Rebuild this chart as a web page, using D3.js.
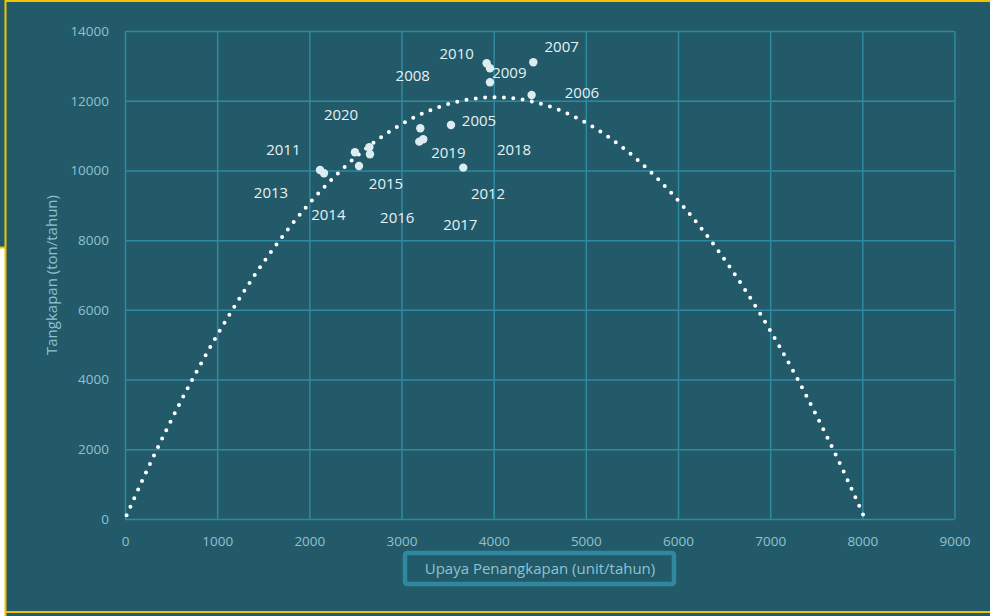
<!DOCTYPE html>
<html>
<head>
<meta charset="utf-8">
<script src="https://cdn.jsdelivr.net/npm/d3@7"></script>
<style>
  html, body { margin: 0; padding: 0; background: #ffffff; }
  svg { display: block; }
  text { font-family: "Open Sans", "Noto Sans", sans-serif; }
</style>
</head>
<body>
<div id="chart"></div>
<script>
let width = 990;
let height = 616;

// tahun, upaya (unit/tahun), tangkapan (ton/tahun)
const years = ['2005', '2006', '2007', '2008', '2009', '2010', '2011', '2012',
               '2013', '2014', '2015', '2016', '2017', '2018', '2019', '2020'];
const effort = [3537, 4412, 4430, 3960, 3960, 3924, 2116, 3670,
                2159, 2495, 2658, 2539, 3193, 3204, 3236, 2651];
const catches = [11305, 12166, 13103, 12530, 12932, 13075, 10013, 10080,
                 9918, 10521, 10464, 10128, 10826, 11210, 10894, 10664];

// posisi label (digeser manual di grafik asli), dalam satuan data
const labelX = [3841, 4958, 4738, 3122, 4170, 3599, 1718, 3939,
                1584, 2206, 2832, 2954, 3638, 4221, 3508, 2344];
const labelY = [11427, 12222, 13551, 12710, 12805, 13361, 10607, 9344,
                9373, 8722, 9631, 8644, 8435, 10587, 10521, 11611];

const xTicks = [0, 1000, 2000, 3000, 4000, 5000, 6000, 7000, 8000, 9000];
const yTicks = [0, 2000, 4000, 6000, 8000, 10000, 12000, 14000];

// trendline polinomial orde 2 (y = a*x + b*x^2), dari grafik
const trendA = 6.027;
const trendB = -0.0007506;
const trendEnd = 8030;

const bg = '#225a69';
const gridColor = '#2e8aa0';
const tickColor = '#8fc2d0';
const pointColor = '#dcecf1';

let svg = d3.select('#chart')
            .append('svg')
            .attr('width', width)
            .attr('height', height);

// latar + bingkai kuning
svg.append('rect')
    .attr('x', 0).attr('y', 0)
    .attr('width', width).attr('height', height)
    .attr('fill', bg);
svg.append('rect')
    .attr('x', 0).attr('y', 248)
    .attr('width', 5).attr('height', height - 248)
    .attr('fill', '#ffffff');
svg.append('line')
    .attr('x1', 0).attr('x2', 6).attr('y1', 247.5).attr('y2', 247.5)
    .attr('stroke', '#f2c200').attr('stroke-width', 2);
svg.append('path')
    .attr('d', 'M5.5,' + height + 'V1H' + (width + 5) + 'M5.5,612H' + (width + 5))
    .attr('fill', 'none')
    .attr('stroke', '#f2c200')
    .attr('stroke-width', 2);

let x = d3.scaleLinear().domain([0, 9000]).range([125, 954.5]);
let y = d3.scaleLinear().domain([0, 14000]).range([519, 31]);

let plotW = x.range()[1] - x.range()[0];
let plotH = y.range()[0] - y.range()[1];

let xAxis = svg.append('g')
    .attr('transform', 'translate(0,' + y(0) + ')')
    .call(d3.axisBottom(x).tickValues(xTicks).tickSize(-plotH).tickPadding(17)
            .tickFormat(function(d) { return d; }));

let yAxis = svg.append('g')
    .attr('transform', 'translate(' + x(0) + ',0)')
    .call(d3.axisLeft(y).tickValues(yTicks).tickSize(-plotW).tickPadding(16)
            .tickFormat(function(d) { return d; }));

[xAxis, yAxis].forEach(function(g) {
    g.select('.domain').remove();
    g.selectAll('line')
        .attr('stroke', gridColor)
        .attr('stroke-width', 1.5);
    g.selectAll('text')
        .attr('fill', tickColor)
        .style('font-size', '13.5px');
});

// trendline titik-titik
let trend = d3.range(0, trendEnd + 1, 10).map(function(v) {
    return [v, trendA * v + trendB * v * v];
});

svg.append('path')
    .datum(trend)
    .attr('d', d3.line()
        .x(function(d) { return x(d[0]); })
        .y(function(d) { return y(d[1]); }))
    .attr('fill', 'none')
    .attr('stroke', '#ffffff')
    .attr('stroke-width', 4)
    .attr('stroke-linecap', 'round')
    .attr('stroke-dasharray', '0 9.4')
    .attr('stroke-dashoffset', -4);

svg.append('g')
    .selectAll('circle')
    .data(years)
    .enter()
    .append('circle')
    .attr('cx', function(d, i) { return x(effort[i]); })
    .attr('cy', function(d, i) { return y(catches[i]); })
    .attr('r', 4.2)
    .attr('fill', pointColor);

svg.append('g')
    .selectAll('text')
    .data(years)
    .enter()
    .append('text')
    .attr('x', function(d, i) { return x(labelX[i]); })
    .attr('y', function(d, i) { return y(labelY[i]); })
    .attr('text-anchor', 'middle')
    .attr('dy', '0.35em')
    .attr('fill', '#e6f1f4')
    .style('font-size', '15px')
    .text(function(d) { return d; });

// judul sumbu
svg.append('text')
    .attr('transform', 'translate(52,' + (y(7000)) + ') rotate(-90)')
    .attr('text-anchor', 'middle')
    .attr('dy', '0.35em')
    .attr('fill', tickColor)
    .style('font-size', '15px')
    .text('Tangkapan (ton/tahun)');

svg.append('rect')
    .attr('x', 405).attr('y', 553)
    .attr('width', 269).attr('height', 31)
    .attr('rx', 2)
    .attr('fill', 'none')
    .attr('stroke', '#2f87a0')
    .attr('stroke-width', 4.5);

svg.append('text')
    .attr('x', 540)
    .attr('y', 569)
    .attr('text-anchor', 'middle')
    .attr('dy', '0.35em')
    .attr('fill', tickColor)
    .style('font-size', '15px')
    .text('Upaya Penangkapan (unit/tahun)');
</script>
</body>
</html>
